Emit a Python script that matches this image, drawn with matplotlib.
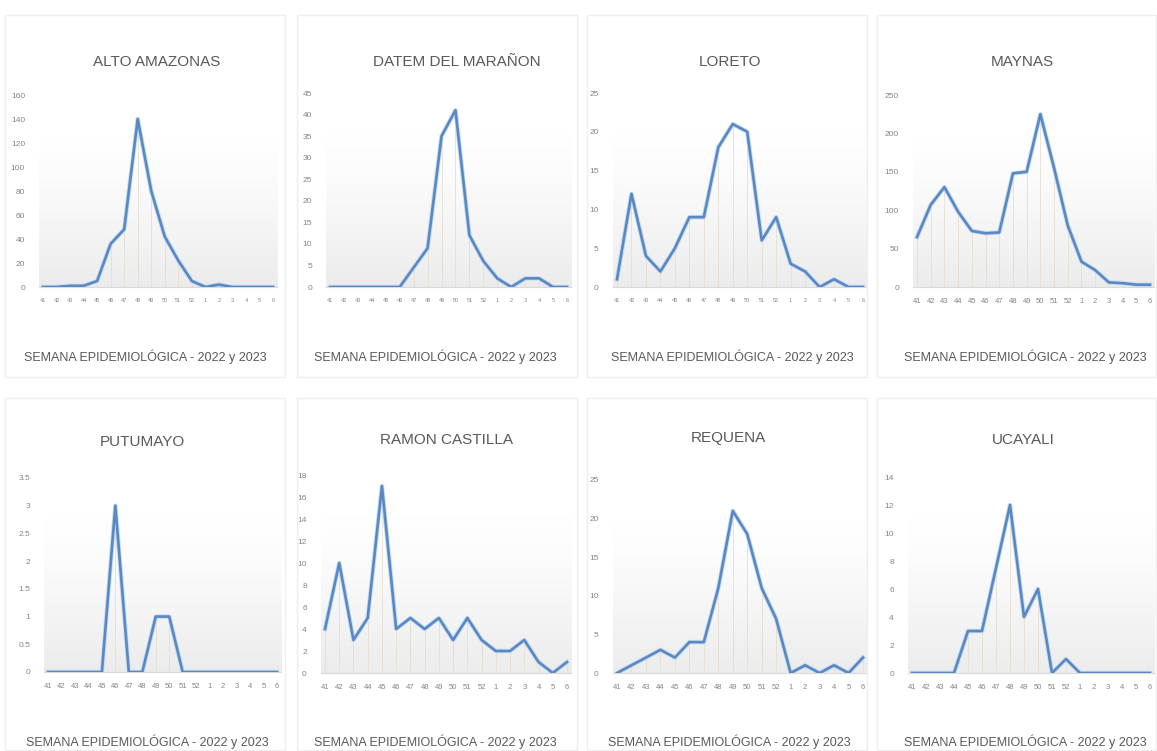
import matplotlib
matplotlib.use("Agg")
import matplotlib.pyplot as plt
import numpy as np
from matplotlib.patches import Rectangle
from matplotlib.colors import LinearSegmentedColormap

plt.rcParams['font.family'] = ['Liberation Sans', 'DejaVu Sans']

W, H = 1157, 751

weeks = ['41', '42', '43', '44', '45', '46', '47', '48', '49', '50', '51', '52',
         '1', '2', '3', '4', '5', '6']

titles = ['ALTO AMAZONAS', 'DATEM DEL MARAÑON', 'LORETO', 'MAYNAS',
          'PUTUMAYO', 'RAMON CASTILLA', 'REQUENA', 'UCAYALI']

alto_amazonas = [0, 0, 1, 1, 5, 36, 48, 140, 80, 42, 22, 5, 0, 2, 0, 0, 0, 0]
datem = [0, 0, 0, 0, 0, 0, 4.5, 9, 35, 41, 12, 6, 2, 0, 2, 2, 0, 0]
loreto = [1, 12, 4, 2, 5, 9, 9, 18, 21, 20, 6, 9, 3, 2, 0, 1, 0, 0]
maynas = [65, 107, 130, 98, 73, 70, 71, 148, 150, 225, 155, 80, 33, 22, 6, 5, 3, 3]
putumayo = [0, 0, 0, 0, 0, 3, 0, 0, 1, 1, 0, 0, 0, 0, 0, 0, 0, 0]
ramon_castilla = [4, 10, 3, 5, 17, 4, 5, 4, 5, 3, 5, 3, 2, 2, 3, 1, 0, 1]
requena = [0, 1, 2, 3, 2, 4, 4, 11, 21, 18, 11, 7, 0, 1, 0, 1, 0, 2]
ucayali = [0, 0, 0, 0, 3, 3, 7.5, 12, 4, 6, 0, 1, 0, 0, 0, 0, 0, 0]

series = [alto_amazonas, datem, loreto, maynas,
          putumayo, ramon_castilla, requena, ucayali]
y_max = [160, 45, 25, 250, 3.5, 18, 25, 14]
y_step = [20, 5, 5, 50, 0.5, 2, 5, 2]

# pixel geometry: x of first/last point, y of top tick, y of zero
geom = [(43, 273, 95, 287), (330, 567, 93, 287), (617, 863, 93, 287), (917, 1150, 95, 287),
        (48, 277, 478, 672), (325, 567, 475, 673), (617, 863, 480, 673), (912, 1150, 477, 673)]
title_pos = [(157, 62), (457, 62), (730, 62), (1022, 62),
             (142, 442), (447, 440), (728, 438), (1023, 440)]
xlabel_pos = [(145, 357), (435, 357), (732, 357), (1025, 357),
              (147, 742), (435, 742), (729, 742), (1025, 742)]
boxes = [(5, 15, 285, 377), (297, 15, 577, 377), (587, 15, 867, 377), (877, 15, 1156, 377),
         (5, 398, 285, 750), (297, 398, 577, 750), (587, 398, 867, 750), (877, 398, 1156, 750)]

line_color = '#5a88c2'
halo_color = '#c5dcf2'
text_color = '#595959'
tick_color = '#858585'
pad = 0.3

fig = plt.figure(figsize=(W / 100, H / 100), dpi=100)
fig.patch.set_facecolor('white')

for (l, t, r, b) in boxes:
    fig.patches.append(Rectangle((l / W, 1 - b / H), (r - l) / W, (b - t) / H,
                                 transform=fig.transFigure, fill=False,
                                 edgecolor='#efefef', lw=1.0))

# white at top, light grey towards the baseline
grad = np.clip(np.linspace(-0.25, 1, 256), 0, 1).reshape(-1, 1) ** 1.3
bg_cmap = LinearSegmentedColormap.from_list('g', ['#ffffff', '#ececec'])

for i in range(8):
    x41, x6, ytop, y0 = geom[i]
    n = len(weeks)
    unit = (x6 - x41) / (n - 1)
    left = x41 - pad * unit
    width = (n - 1 + 2 * pad) * unit
    ax = fig.add_axes([left / W, 1 - y0 / H, width / W, (y0 - ytop) / H])
    x = np.arange(n)
    vals = series[i]

    ax.imshow(grad, extent=(-pad, n - 1 + pad, 0, y_max[i]), aspect='auto',
              cmap=bg_cmap, vmin=0, vmax=1, origin='upper', zorder=0)
    ax.vlines(x, 0, vals, colors='#e6ded2', lw=0.6, zorder=1)
    ax.plot(x, vals, color=halo_color, lw=3.2, solid_joinstyle='round', zorder=2)
    ax.plot(x, vals, color=line_color, lw=1.9, solid_joinstyle='round', zorder=3)

    ax.set_xlim(-pad, n - 1 + pad)
    ax.set_ylim(0, y_max[i])
    ax.set_yticks(np.arange(0, y_max[i] + y_step[i] / 2, y_step[i]))
    if y_step[i] < 1:
        ax.set_yticklabels([('%g' % v) for v in ax.get_yticks()])
    ax.set_xticks(x)
    ax.set_xticklabels(weeks)
    xfs = 4.0 if i < 3 else 5.5
    ax.tick_params(axis='x', length=0, labelsize=xfs, colors=tick_color, pad=8)
    ax.tick_params(axis='y', length=0, labelsize=6, colors=tick_color, pad=10)
    for s in ['top', 'right', 'left']:
        ax.spines[s].set_visible(False)
    ax.spines['bottom'].set_color('#d9d9d9')
    ax.spines['bottom'].set_linewidth(0.8)
    ax.set_facecolor('none')

    tx, ty = title_pos[i]
    fig.text(tx / W, 1 - ty / H, titles[i], ha='center', va='center',
             fontsize=11, color=text_color)
    lx, ly = xlabel_pos[i]
    fig.text(lx / W, 1 - ly / H, 'SEMANA EPIDEMIOLÓGICA - 2022 y 2023',
             ha='center', va='center', fontsize=9, color=text_color)

fig.savefig('out.png', dpi=100)
